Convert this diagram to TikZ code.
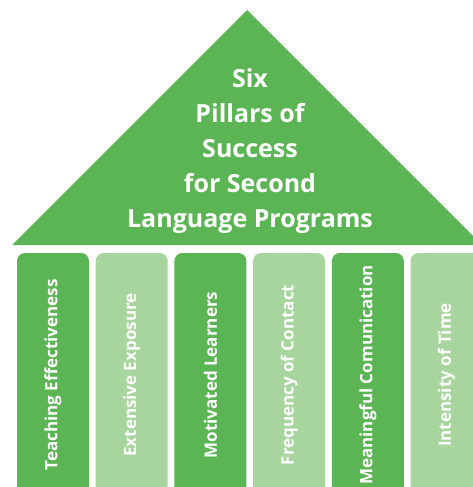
\documentclass[tikz,border=0pt]{standalone}
\usepackage{fontspec}
\setmainfont{Open Sans}
\usetikzlibrary{positioning}

\definecolor{darkleaf}{RGB}{92,181,84}
\definecolor{lightleaf}{RGB}{168,213,157}

\tikzstyle{pillar} = [rectangle, rounded corners = 8pt, minimum width = 72pt,
	minimum height = 244pt, inner sep = 0pt, text = white,
	font = \fontsize{17}{20}\selectfont\bfseries]

\begin{document}
\begin{tikzpicture}[x = 1pt, y = -1pt, node distance = 6.3pt]

\useasboundingbox (0,0) rectangle (473,487);
\clip (0,0) rectangle (473,487);

% roof
\coordinate (eaveL) at (12,245);
\coordinate (apex) at (247,10);
\coordinate (eaveR) at (482,245);
\fill [darkleaf] (eaveL) -- (apex) -- (eaveR) -- cycle;

\node (title) [align = center, text = white,
	font = \fontsize{25}{35}\selectfont\bfseries] at (250,151)
	{Six\\ Pillars of\\ Success\\ for Second\\ Language Programs};

% pillars
\node (p1) [pillar, fill = darkleaf] at (53,375)
	{\rotatebox{90}{Teaching Effectiveness}};
\node (p2) [pillar, fill = lightleaf, right = of p1]
	{\rotatebox{90}{Extensive Exposure}};
\node (p3) [pillar, fill = darkleaf, right = of p2]
	{\rotatebox{90}{Motivated Learners}};
\node (p4) [pillar, fill = lightleaf, right = of p3]
	{\rotatebox{90}{Frequency of Contact}};
\node (p5) [pillar, fill = darkleaf, right = of p4]
	{\rotatebox{90}{Meaningful Comunication}};
\node (p6) [pillar, fill = lightleaf, right = of p5]
	{\rotatebox{90}{Intensity of Time}};

\end{tikzpicture}
\end{document}
